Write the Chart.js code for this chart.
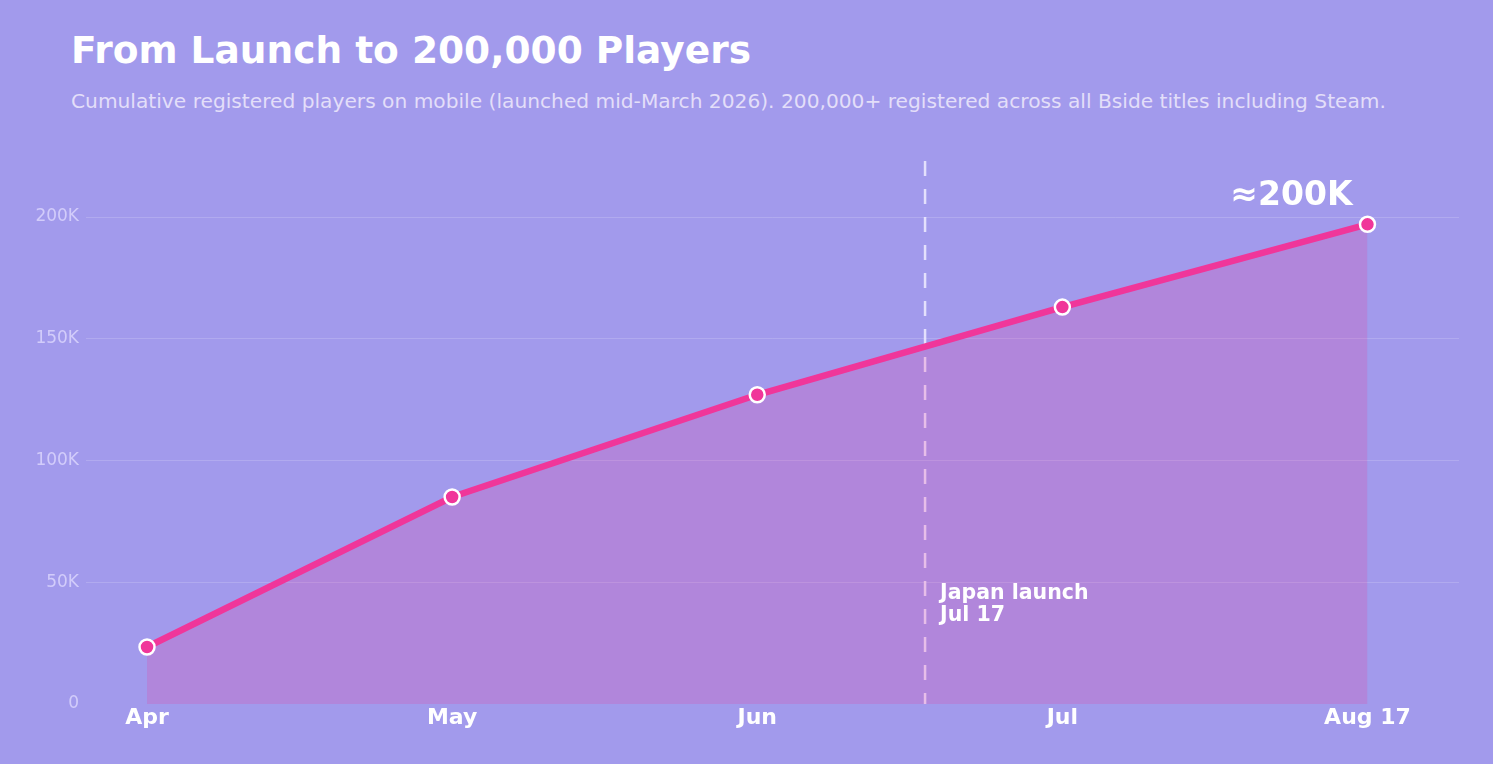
<!DOCTYPE html>
<html>
<head>
<meta charset="utf-8">
<script src="https://cdn.jsdelivr.net/npm/chart.js@4.4.1/dist/chart.umd.min.js"></script>
<style>
  html, body { margin: 0; padding: 0; background: #a29aec; }
  body { width: 1493px; height: 764px; position: relative; overflow: hidden; font-family: 'DejaVu Sans', sans-serif; }
  #title { position: absolute; left: 71px; top: 28px; font-size: 37.5px; font-weight: bold; color: #ffffff; white-space: nowrap; }
  #sub { position: absolute; left: 71px; top: 89px; font-size: 20.2px; color: #e3def9; white-space: nowrap; }
  #wrap { position: absolute; left: 0; top: 0; width: 1493px; height: 764px; }
</style>
</head>
<body>
<div id="title">From Launch to 200,000 Players</div>
<div id="sub">Cumulative registered players on mobile (launched mid-March 2026). 200,000+ registered across all Bside titles including Steam.</div>
<div id="wrap"><canvas id="myChart"></canvas></div>
<script>
// 월별 누적 가입자
const months = ['Apr', 'May', 'Jun', 'Jul', 'Aug 17'];
const players = [23400, 85000, 127000, 163000, 197000];
const yTicks = [0, 50000, 100000, 150000, 200000];
const yTickLabels = ['0', '50K', '100K', '150K', '200K'];
// 일본 출시 위치 (Jun=2, Jul=3 사이, 7월 17일)
const launchPos = 2.55;
const launchText = ['Japan launch', 'Jul 17'];
const peakText = '≈200K';

const font = "'DejaVu Sans', sans-serif";

const annot = {
    id: 'annot',
    beforeDatasetsDraw(chart) {
        const { ctx, chartArea, scales } = chart;
        const x = scales.x.getPixelForValue(launchPos);
        ctx.save();
        ctx.strokeStyle = 'rgba(240,236,255,0.85)';
        ctx.lineWidth = 2.5;
        ctx.setLineDash([15, 13]);
        ctx.beginPath();
        ctx.moveTo(x, chartArea.top);
        ctx.lineTo(x, chartArea.bottom);
        ctx.stroke();
        ctx.restore();
    },
    afterDatasetsDraw(chart) {
        const { ctx, chartArea, scales } = chart;
        const x = scales.x.getPixelForValue(launchPos);
        ctx.save();
        ctx.fillStyle = '#ffffff';
        ctx.font = 'bold 20.5px ' + font;
        ctx.textAlign = 'left';
        ctx.textBaseline = 'alphabetic';
        ctx.fillText(launchText[0], x + 15, chartArea.bottom - 105);
        ctx.fillText(launchText[1], x + 15, chartArea.bottom - 83);

        // 마지막 점 위 라벨
        const pts = chart.getDatasetMeta(0).data;
        const last = pts[pts.length - 1];
        ctx.font = 'bold 33px ' + font;
        ctx.textAlign = 'right';
        ctx.fillText(peakText, last.x - 15, last.y - 19);
        ctx.restore();
    }
};

const ctx = document.getElementById('myChart').getContext('2d');
const myChart = new Chart(ctx, {
    type: 'line',
    plugins: [annot],
    data: {
        datasets: [{
            label: 'Players',
            data: players.map((v, i) => ({ x: i, y: v })),
            borderColor: '#f0369a',
            borderWidth: 6.5,
            backgroundColor: 'rgba(240,54,154,0.2)',
            fill: 'origin',
            tension: 0,
            pointRadius: 7.5,
            pointHoverRadius: 7.5,
            pointBackgroundColor: '#f0369a',
            pointBorderColor: '#ffffff',
            pointBorderWidth: 2.5
        }]
    },
    options: {
        responsive: true,
        maintainAspectRatio: false,
        animation: false,
        layout: { padding: { top: 161, right: 34, left: 0, bottom: 0 } },
        scales: {
            x: {
                type: 'linear',
                min: -0.2,
                max: 4.3,
                border: { display: false },
                grid: { display: false },
                afterBuildTicks: (axis) => {
                    axis.ticks = months.map((m, i) => ({ value: i }));
                },
                afterFit: (axis) => { axis.height = 60; },
                ticks: {
                    color: '#ffffff',
                    padding: -7,
                    font: { family: font, size: 22, weight: 'bold' },
                    callback: (v) => months[v]
                }
            },
            y: {
                min: 0,
                max: 223000,
                border: { display: false },
                grid: {
                    drawTicks: false,
                    color: (c) => c.tick && c.tick.value === 0 ? 'rgba(0,0,0,0)' : 'rgba(255,255,255,0.16)',
                    lineWidth: 1
                },
                afterBuildTicks: (axis) => {
                    axis.ticks = yTicks.map(v => ({ value: v }));
                },
                afterFit: (axis) => { axis.width = 86; },
                ticks: {
                    color: 'rgba(225,220,255,0.75)',
                    padding: 7,
                    font: { family: font, size: 17 },
                    callback: (v) => yTickLabels[yTicks.indexOf(v)]
                }
            }
        },
        plugins: {
            legend: { display: false },
            tooltip: { enabled: false }
        }
    }
});
</script>
</body>
</html>
